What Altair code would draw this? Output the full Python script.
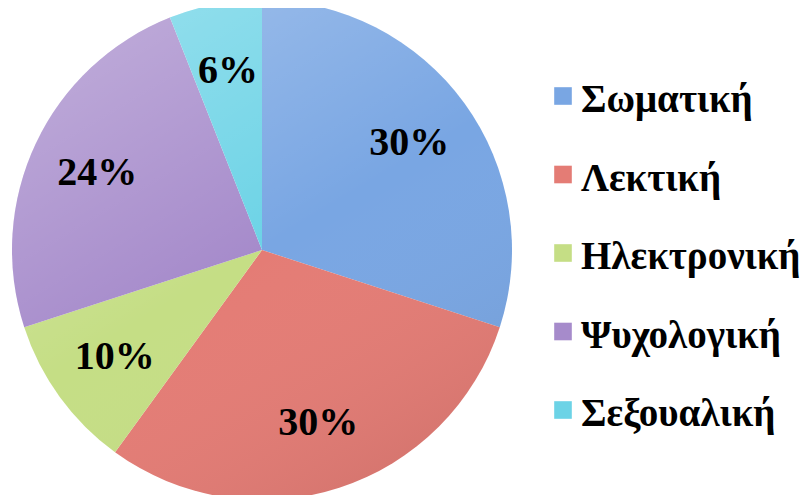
import altair as alt
import pandas as pd

categories = ["Σωματική", "Λεκτική", "Ηλεκτρονική", "Ψυχολογική", "Σεξουαλική"]
values = [30, 30, 10, 24, 6]
labels = ["30%", "30%", "10%", "24%", "6%"]
colors = ["#79A6E3", "#E47C75", "#C5DE85", "#A68BCB", "#6CD3E6"]

df = pd.DataFrame({"cat": categories, "val": values, "lab": labels, "order": list(range(len(values)))})

CX, CY, R = 254, 242, 250
FONT = "Liberation Serif"

color = alt.Color(
    "cat:N",
    sort=categories,
    scale=alt.Scale(domain=categories, range=colors),
    legend=None,
)

base = alt.Chart(df).encode(
    theta=alt.Theta("val:Q", stack=True),
    order=alt.Order("order:Q"),
)

arcs = base.mark_arc(outerRadius=R, stroke=None).encode(
    color=color, x=alt.value(CX), y=alt.value(CY)
)

shade = alt.Chart(pd.DataFrame({"a": [0]})).mark_arc(
    outerRadius=R, theta=0, theta2=6.2832,
    color=alt.Gradient(
        gradient="linear",
        stops=[
            alt.GradientStop(color="rgba(255,255,255,0.28)", offset=0),
            alt.GradientStop(color="rgba(255,255,255,0.0)", offset=0.5),
            alt.GradientStop(color="rgba(0,0,0,0.08)", offset=1),
        ],
        x1=0.2, y1=0, x2=0.8, y2=1,
    ),
).encode(x=alt.value(CX), y=alt.value(CY))

text = base.mark_text(
    radius=182, font=FONT, fontWeight="bold", fontSize=40, color="black"
).encode(text="lab:N", x=alt.value(CX), y=alt.value(CY))

# Legend built from the same categories
leg_y = alt.Y(
    "cat:N", sort=categories, axis=None,
    scale=alt.Scale(type="point", range=[88, 402], padding=0),
)
leg_sq = alt.Chart(df).mark_square(size=310, opacity=1, strokeWidth=0).encode(
    x=alt.value(555), y=leg_y, color=color
)
leg_txt = alt.Chart(df).mark_text(
    font=FONT, fontWeight="bold", fontSize=39, color="black",
    align="left", baseline="alphabetic", dy=16,
).encode(x=alt.value(573), y=leg_y, text="cat:N")

chart = alt.layer(arcs, shade, text, leg_sq, leg_txt).properties(
    width=793, height=487, padding=0, autosize=alt.AutoSizeParams(type="none")
).configure_view(stroke=None)

chart.save("out.html", embed_options={"renderer": "svg", "actions": False})
